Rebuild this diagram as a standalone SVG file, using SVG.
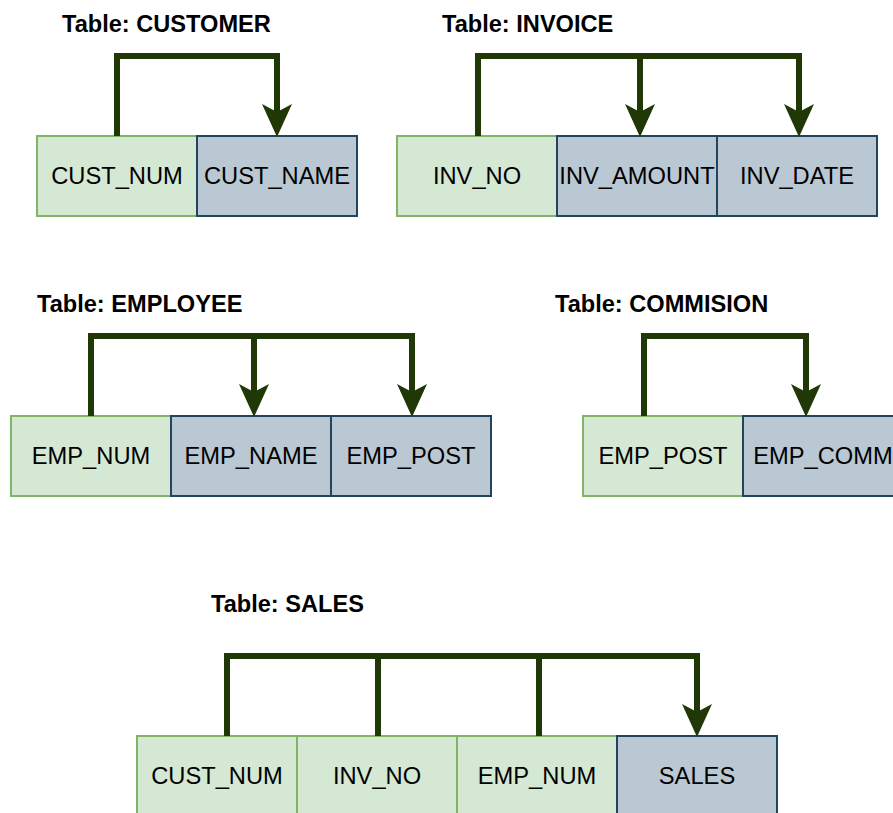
<svg xmlns="http://www.w3.org/2000/svg" width="893" height="813" viewBox="0 0 893 813">
  <style>
    .key { fill: #d5e8d4; stroke: #82b366; stroke-width: 2; }
    .attr { fill: #bac8d3; stroke: #23445d; stroke-width: 2; }
    .lbl { font-family: "Liberation Sans", Arial, sans-serif; font-size: 23.7px; fill: #000; text-anchor: middle; }
    .title { font-family: "Liberation Sans", Arial, sans-serif; font-size: 23.6px; font-weight: bold; fill: #000; }
    .dep { fill: none; stroke: #1f3806; stroke-width: 6; stroke-linejoin: miter; stroke-linecap: square; }
    .arrow { marker-end: url(#head); }
  </style>
  <defs>
    <!-- filled arrowhead, notched back; ref point at the notch -->
    <marker id="head" markerUnits="userSpaceOnUse" markerWidth="34" markerHeight="32" refX="8" refY="15" orient="auto" overflow="visible">
      <path d="M0,0 L33,15 L0,30 L8,15 Z" fill="#1f3806"/>
    </marker>
  </defs>

  <rect width="893" height="813" fill="#ffffff"/>

  <!-- table titles -->
  <text class="title" x="62" y="32">Table: CUSTOMER</text>
  <text class="title" x="442" y="32">Table: INVOICE</text>
  <text class="title" x="37" y="312">Table: EMPLOYEE</text>
  <text class="title" x="555" y="312">Table: COMMISION</text>
  <text class="title" x="211" y="612">Table: SALES</text>

  <!-- CUSTOMER -->
  <g id="cust-num">
    <rect class="key" x="37" y="136" width="160" height="80"/>
    <text class="lbl" x="117" y="184">CUST_NUM</text>
  </g>
  <g id="cust-name">
    <rect class="attr" x="197" y="136" width="160" height="80"/>
    <text class="lbl" x="277" y="184">CUST_NAME</text>
  </g>

  <!-- INVOICE -->
  <g id="inv-no">
    <rect class="key" x="397" y="136" width="160" height="80"/>
    <text class="lbl" x="477" y="184">INV_NO</text>
  </g>
  <g id="inv-amount">
    <rect class="attr" x="557" y="136" width="160" height="80"/>
    <text class="lbl" x="637" y="184">INV_AMOUNT</text>
  </g>
  <g id="inv-date">
    <rect class="attr" x="717" y="136" width="160" height="80"/>
    <text class="lbl" x="797" y="184">INV_DATE</text>
  </g>

  <!-- EMPLOYEE -->
  <g id="emp-num">
    <rect class="key" x="11" y="416" width="160" height="80"/>
    <text class="lbl" x="91" y="464">EMP_NUM</text>
  </g>
  <g id="emp-name">
    <rect class="attr" x="171" y="416" width="160" height="80"/>
    <text class="lbl" x="251" y="464">EMP_NAME</text>
  </g>
  <g id="emp-post">
    <rect class="attr" x="331" y="416" width="160" height="80"/>
    <text class="lbl" x="411" y="464">EMP_POST</text>
  </g>

  <!-- COMMISION -->
  <g id="com-post">
    <rect class="key" x="583" y="416" width="160" height="80"/>
    <text class="lbl" x="663" y="464">EMP_POST</text>
  </g>
  <g id="com-comm">
    <rect class="attr" x="743" y="416" width="160" height="80"/>
    <text class="lbl" x="823" y="464">EMP_COMM</text>
  </g>

  <!-- SALES -->
  <g id="sales-cust">
    <rect class="key" x="137" y="736" width="160" height="80"/>
    <text class="lbl" x="217" y="784">CUST_NUM</text>
  </g>
  <g id="sales-inv">
    <rect class="key" x="297" y="736" width="160" height="80"/>
    <text class="lbl" x="377" y="784">INV_NO</text>
  </g>
  <g id="sales-emp">
    <rect class="key" x="457" y="736" width="160" height="80"/>
    <text class="lbl" x="537" y="784">EMP_NUM</text>
  </g>
  <g id="sales-val">
    <rect class="attr" x="617" y="736" width="160" height="80"/>
    <text class="lbl" x="697" y="784">SALES</text>
  </g>

  <!-- functional dependencies -->
  <g id="connectors">
    <path class="dep arrow" d="M117,133 V56 H277 V112"/>

    <path class="dep arrow" d="M478,133 V56 H799 V112"/>
    <path class="dep arrow" d="M640,56 V112"/>

    <path class="dep arrow" d="M91,413 V336 H412 V392"/>
    <path class="dep arrow" d="M254,336 V392"/>

    <path class="dep arrow" d="M644,413 V336 H806 V392"/>

    <path class="dep arrow" d="M227,733 V656 H697 V712"/>
    <path class="dep" d="M378,656 V733"/>
    <path class="dep" d="M539,656 V733"/>
  </g>
</svg>
